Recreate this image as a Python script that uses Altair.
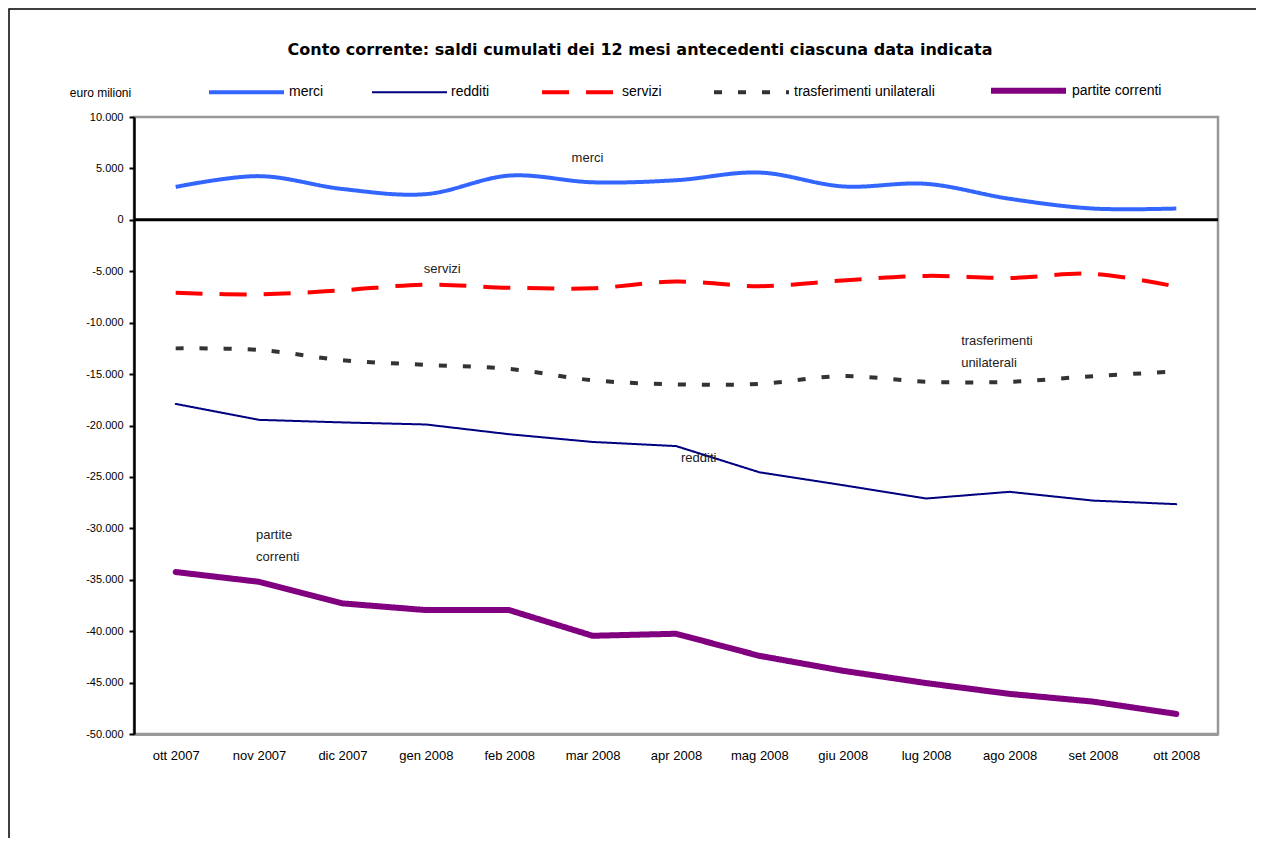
import altair as alt
import pandas as pd

months = ["ott 2007", "nov 2007", "dic 2007", "gen 2008", "feb 2008", "mar 2008", "apr 2008",
          "mag 2008", "giu 2008", "lug 2008", "ago 2008", "set 2008", "ott 2008"]
merci = [3200, 4250, 3000, 2500, 4300, 3650, 3850, 4600, 3250, 3500, 2050, 1100, 1100]
redditi = [-17900, -19450, -19700, -19900, -20850, -21600, -22000, -24550, -25800, -27100, -26450, -27300, -27650]
servizi = [-7100, -7250, -6850, -6300, -6600, -6650, -6000, -6450, -5900, -5450, -5650, -5250, -6500]
trasferimenti = [-12500, -12650, -13650, -14100, -14500, -15600, -16000, -15950, -15200, -15750, -15750, -15200, -14750]
partite = [-34250, -35200, -37300, -37950, -37950, -40450, -40250, -42400, -43850, -45050, -46100, -46850, -48050]

series_names = ["merci", "redditi", "servizi", "trasferimenti unilaterali", "partite correnti"]
series_values = [merci, redditi, servizi, trasferimenti, partite]
colors = ["#3366FF", "#000080", "#FF0000", "#333333", "#800080"]
widths = [4, 2, 4, 4, 6]
dashes = [[1, 0], [1, 0], [27, 17], [8, 16], [1, 0]]
smoothed = ["merci", "servizi", "trasferimenti unilaterali"]

y_ticks = list(range(-50000, 10001, 5000))

ann_labels = ["merci", "servizi", "trasferimenti", "unilaterali", "redditi", "partite", "correnti"]
ann_month = ["mar 2008", "gen 2008", "lug 2008", "lug 2008", "apr 2008", "nov 2007", "nov 2007"]
ann_value = [6050, -4750, -11750, -13900, -23200, -30600, -32750]
ann_dx = [-21, -2, 35, 35, 5, -3, -3]

rows = []
for name, vals in zip(series_names, series_values):
    for m, v in zip(months, vals):
        rows.append({"mese": m, "valore": v, "serie": name})
df = pd.DataFrame(rows)

FONT = "Liberation Sans"

x_enc = alt.X("mese:N", sort=months,
              scale=alt.Scale(type="point", padding=0.5),
              axis=alt.Axis(title=None, labelAngle=0, ticks=False, labelPadding=15,
                            labelFont=FONT, labelFontSize=13, labelColor="#000000",
                            domainColor="#999999", domainWidth=3, grid=False))
y_enc = alt.Y("valore:Q",
              scale=alt.Scale(domain=[-50000, 10000], nice=False, zero=False),
              axis=alt.Axis(values=y_ticks, grid=False, title="euro milioni",
                            titleAngle=0, titleX=-34, titleY=-25, titleAlign="center",
                            titleBaseline="middle", titleFont=FONT, titleFontSize=12,
                            titleFontWeight="normal", titleColor="#000000",
                            labelFont=FONT, labelFontSize=11, labelColor="#000000",
                            labelPadding=6, tickSize=5, tickColor="#000000", tickWidth=2,
                            domainColor="#000000", domainWidth=2.5,
                            labelExpr="(datum.value < 0 ? '-' : '') + replace(format(abs(datum.value), ','), ',', '.')"))

legend = alt.Legend(title=None, orient="none", legendX=73, legendY=-67, direction="horizontal",
                    symbolType="stroke", symbolSize=5625, labelFont=FONT, labelFontSize=14,
                    labelColor="#000000", columnPadding=44, labelOffset=3, padding=0)

color_enc = alt.Color("serie:N", scale=alt.Scale(domain=series_names, range=colors),
                      legend=legend, sort=series_names)
width_enc = alt.StrokeWidth("serie:N", scale=alt.Scale(type="ordinal", domain=series_names, range=widths),
                            legend=legend, sort=series_names)
dash_enc = alt.StrokeDash("serie:N", scale=alt.Scale(domain=series_names, range=dashes),
                          legend=legend, sort=series_names)

base = alt.Chart(df)

smooth_lines = base.transform_filter(
    alt.FieldOneOfPredicate(field="serie", oneOf=smoothed)
).mark_line(interpolate="cardinal", tension=0, strokeCap="butt").encode(
    x=x_enc, y=y_enc, color=color_enc, strokeWidth=width_enc, strokeDash=dash_enc,
    detail="serie:N")

linear_lines = base.transform_filter(
    {"not": alt.FieldOneOfPredicate(field="serie", oneOf=smoothed)}
).mark_line(strokeCap="round", strokeJoin="round").encode(
    x=x_enc, y=y_enc, color=color_enc, strokeWidth=width_enc, strokeDash=dash_enc,
    detail="serie:N")

zero_rule = alt.Chart(pd.DataFrame({"z": [0]})).mark_rule(color="#000000", strokeWidth=3).encode(
    y=alt.Y("z:Q"))

frame = alt.Chart(pd.DataFrame({"f": [0]})).mark_rect(
    fillOpacity=0, stroke="#000000", strokeWidth=1.5
).encode(x=alt.value(-125), x2=alt.value(1400), y=alt.value(-108), y2=alt.value(1000))

ann_layers = []
for lab, m, v, dx in zip(ann_labels, ann_month, ann_value, ann_dx):
    d = pd.DataFrame({"mese": [m], "valore": [v], "testo": [lab]})
    ann_layers.append(
        alt.Chart(d).mark_text(align="left", baseline="middle", dx=dx, font=FONT,
                               fontSize=13, color="#222222").encode(
            x=alt.X("mese:N", sort=months), y=alt.Y("valore:Q"), text="testo:N"))

chart = alt.layer(frame, zero_rule, smooth_lines, linear_lines, *ann_layers).properties(
    width=1084, height=617,
    title=alt.TitleParams(
        text="Conto corrente: saldi cumulati dei 12 mesi antecedenti ciascuna data indicata",
        font="DejaVu Sans", fontSize=16, fontWeight="bold", color="#000000",
        anchor="middle", dx=-36, dy=80, offset=30),
    autosize=alt.AutoSizeParams(type="none"),
    padding={"left": 126, "top": 109, "right": 38, "bottom": 104},
).configure_view(stroke="#999999", strokeWidth=2.5)

chart.save("out.html", embed_options={"renderer": "svg", "actions": False})
